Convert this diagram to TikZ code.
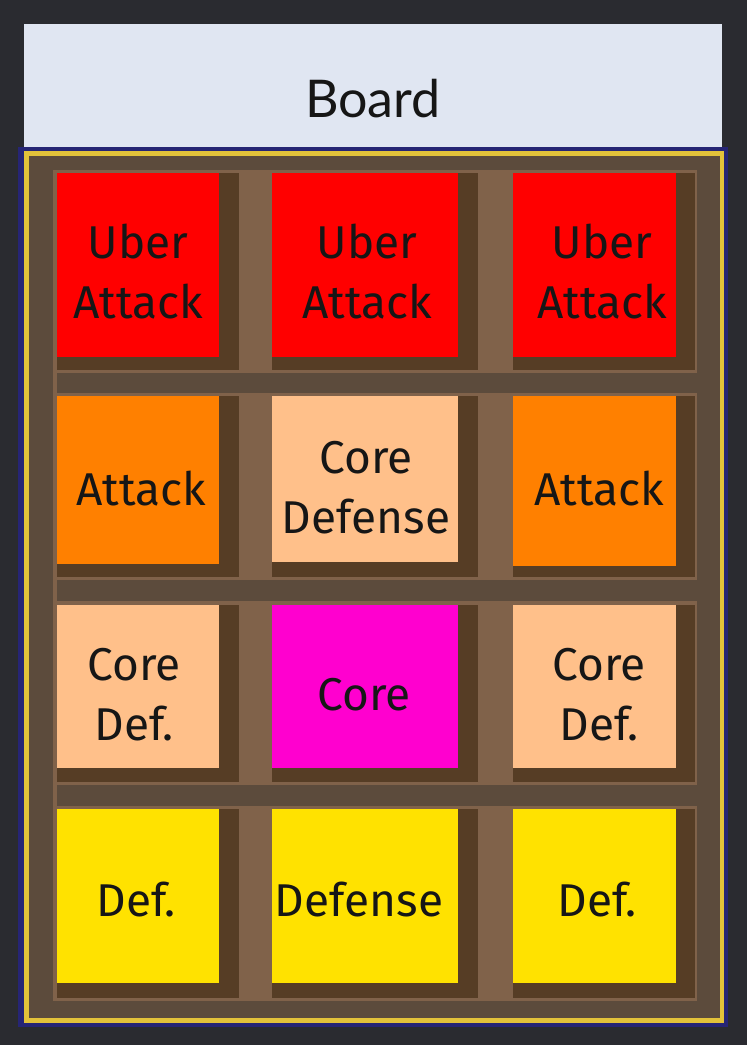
\documentclass[tikz,border=0pt]{standalone}
\usepackage{fontspec}
\setmainfont{Fira Sans}
\newfontfamily\boardfont{Lato}
\definecolor{bgc}{HTML}{2A2B30}
\definecolor{headc}{HTML}{E0E6F2}
\definecolor{navyc}{HTML}{262575}
\definecolor{goldc}{HTML}{E3C23A}
\definecolor{framec}{HTML}{5C4B3C}
\definecolor{woodc}{HTML}{80624A}
\definecolor{shadc}{HTML}{563D25}
\definecolor{redc}{HTML}{FF0000}
\definecolor{orangec}{HTML}{FF8000}
\definecolor{peachc}{HTML}{FFC08A}
\definecolor{magc}{HTML}{FF00CF}
\definecolor{yelc}{HTML}{FFE200}
\definecolor{txtc}{HTML}{161616}
\newcommand\gcell[8]{%
  \fill[shadc] (#2,#3) rectangle (#6,#7);
  \fill[#8] (#2,#3) rectangle (#4,#5);
  \coordinate (#1) at ({(#2+#4)/2},{(#3+#5)/2});
}
\tikzset{
  celltext/.style={text=txtc, align=center, inner sep=0pt, anchor=base,
    font=\fontsize{46}{60}\selectfont},
  barstyle/.style={fill=framec},
}
\begin{document}
\begin{tikzpicture}[x=1pt,y=-1pt]
\fill[bgc] (0,0) rectangle (747,1045);
\useasboundingbox (0,0) rectangle (747,1045);
% header
\fill[headc] (24,24) rectangle (722,147);
\node[text=txtc, inner sep=0pt, anchor=base, font=\boardfont\fontsize{52}{60}\selectfont] (board) at (373,117) {Board};
% board frame
\fill[navyc] (18,147) rectangle (728,1027);
\fill[goldc] (24,151) rectangle (724,1023);
\fill[framec] (29,156) rectangle (720,1018);
\fill[woodc] (53,170) rectangle (697,1001);
% cells
\gcell{c11}{57}{173}{219}{357}{239}{370}{redc}
\gcell{c12}{272}{173}{458}{357}{478}{370}{redc}
\gcell{c13}{513}{173}{676}{357}{695}{370}{redc}
\gcell{c21}{57}{396}{219}{564}{239}{577}{orangec}
\gcell{c22}{272}{396}{458}{562}{478}{577}{peachc}
\gcell{c23}{513}{396}{676}{566}{695}{577}{orangec}
\gcell{c31}{57}{605}{219}{768}{239}{782}{peachc}
\gcell{c32}{272}{605}{458}{768}{478}{782}{magc}
\gcell{c33}{513}{605}{676}{768}{695}{782}{peachc}
\gcell{c41}{57}{809}{219}{983}{239}{998}{yelc}
\gcell{c42}{272}{809}{458}{983}{478}{998}{yelc}
\gcell{c43}{513}{809}{676}{983}{695}{998}{yelc}
% horizontal bars
\fill[barstyle] (57,373) rectangle (697,393);
\fill[barstyle] (57,580) rectangle (697,601);
\fill[barstyle] (57,785) rectangle (697,806);
% texts (base anchor = baseline of last line)
\node[celltext] (t11) at (138,318) {Uber\\Attack};
\node[celltext] (t12) at (367,318) {Uber\\Attack};
\node[celltext] (t13) at (602,318) {Uber\\Attack};
\node[celltext] (t21) at (141,505) {Attack};
\node[celltext] (t22) at (366,533) {Core\\Defense};
\node[celltext] (t23) at (599,505) {Attack};
\node[celltext] (t31) at (134,740) {Core\\Def.};
\node[celltext] (t32) at (364,710) {Core};
\node[celltext] (t33) at (599,740) {Core\\Def.};
\node[celltext] (t41) at (136,916) {Def.};
\node[celltext] (t42) at (359,916) {Defense};
\node[celltext] (t43) at (597,916) {Def.};
\end{tikzpicture}
\end{document}
